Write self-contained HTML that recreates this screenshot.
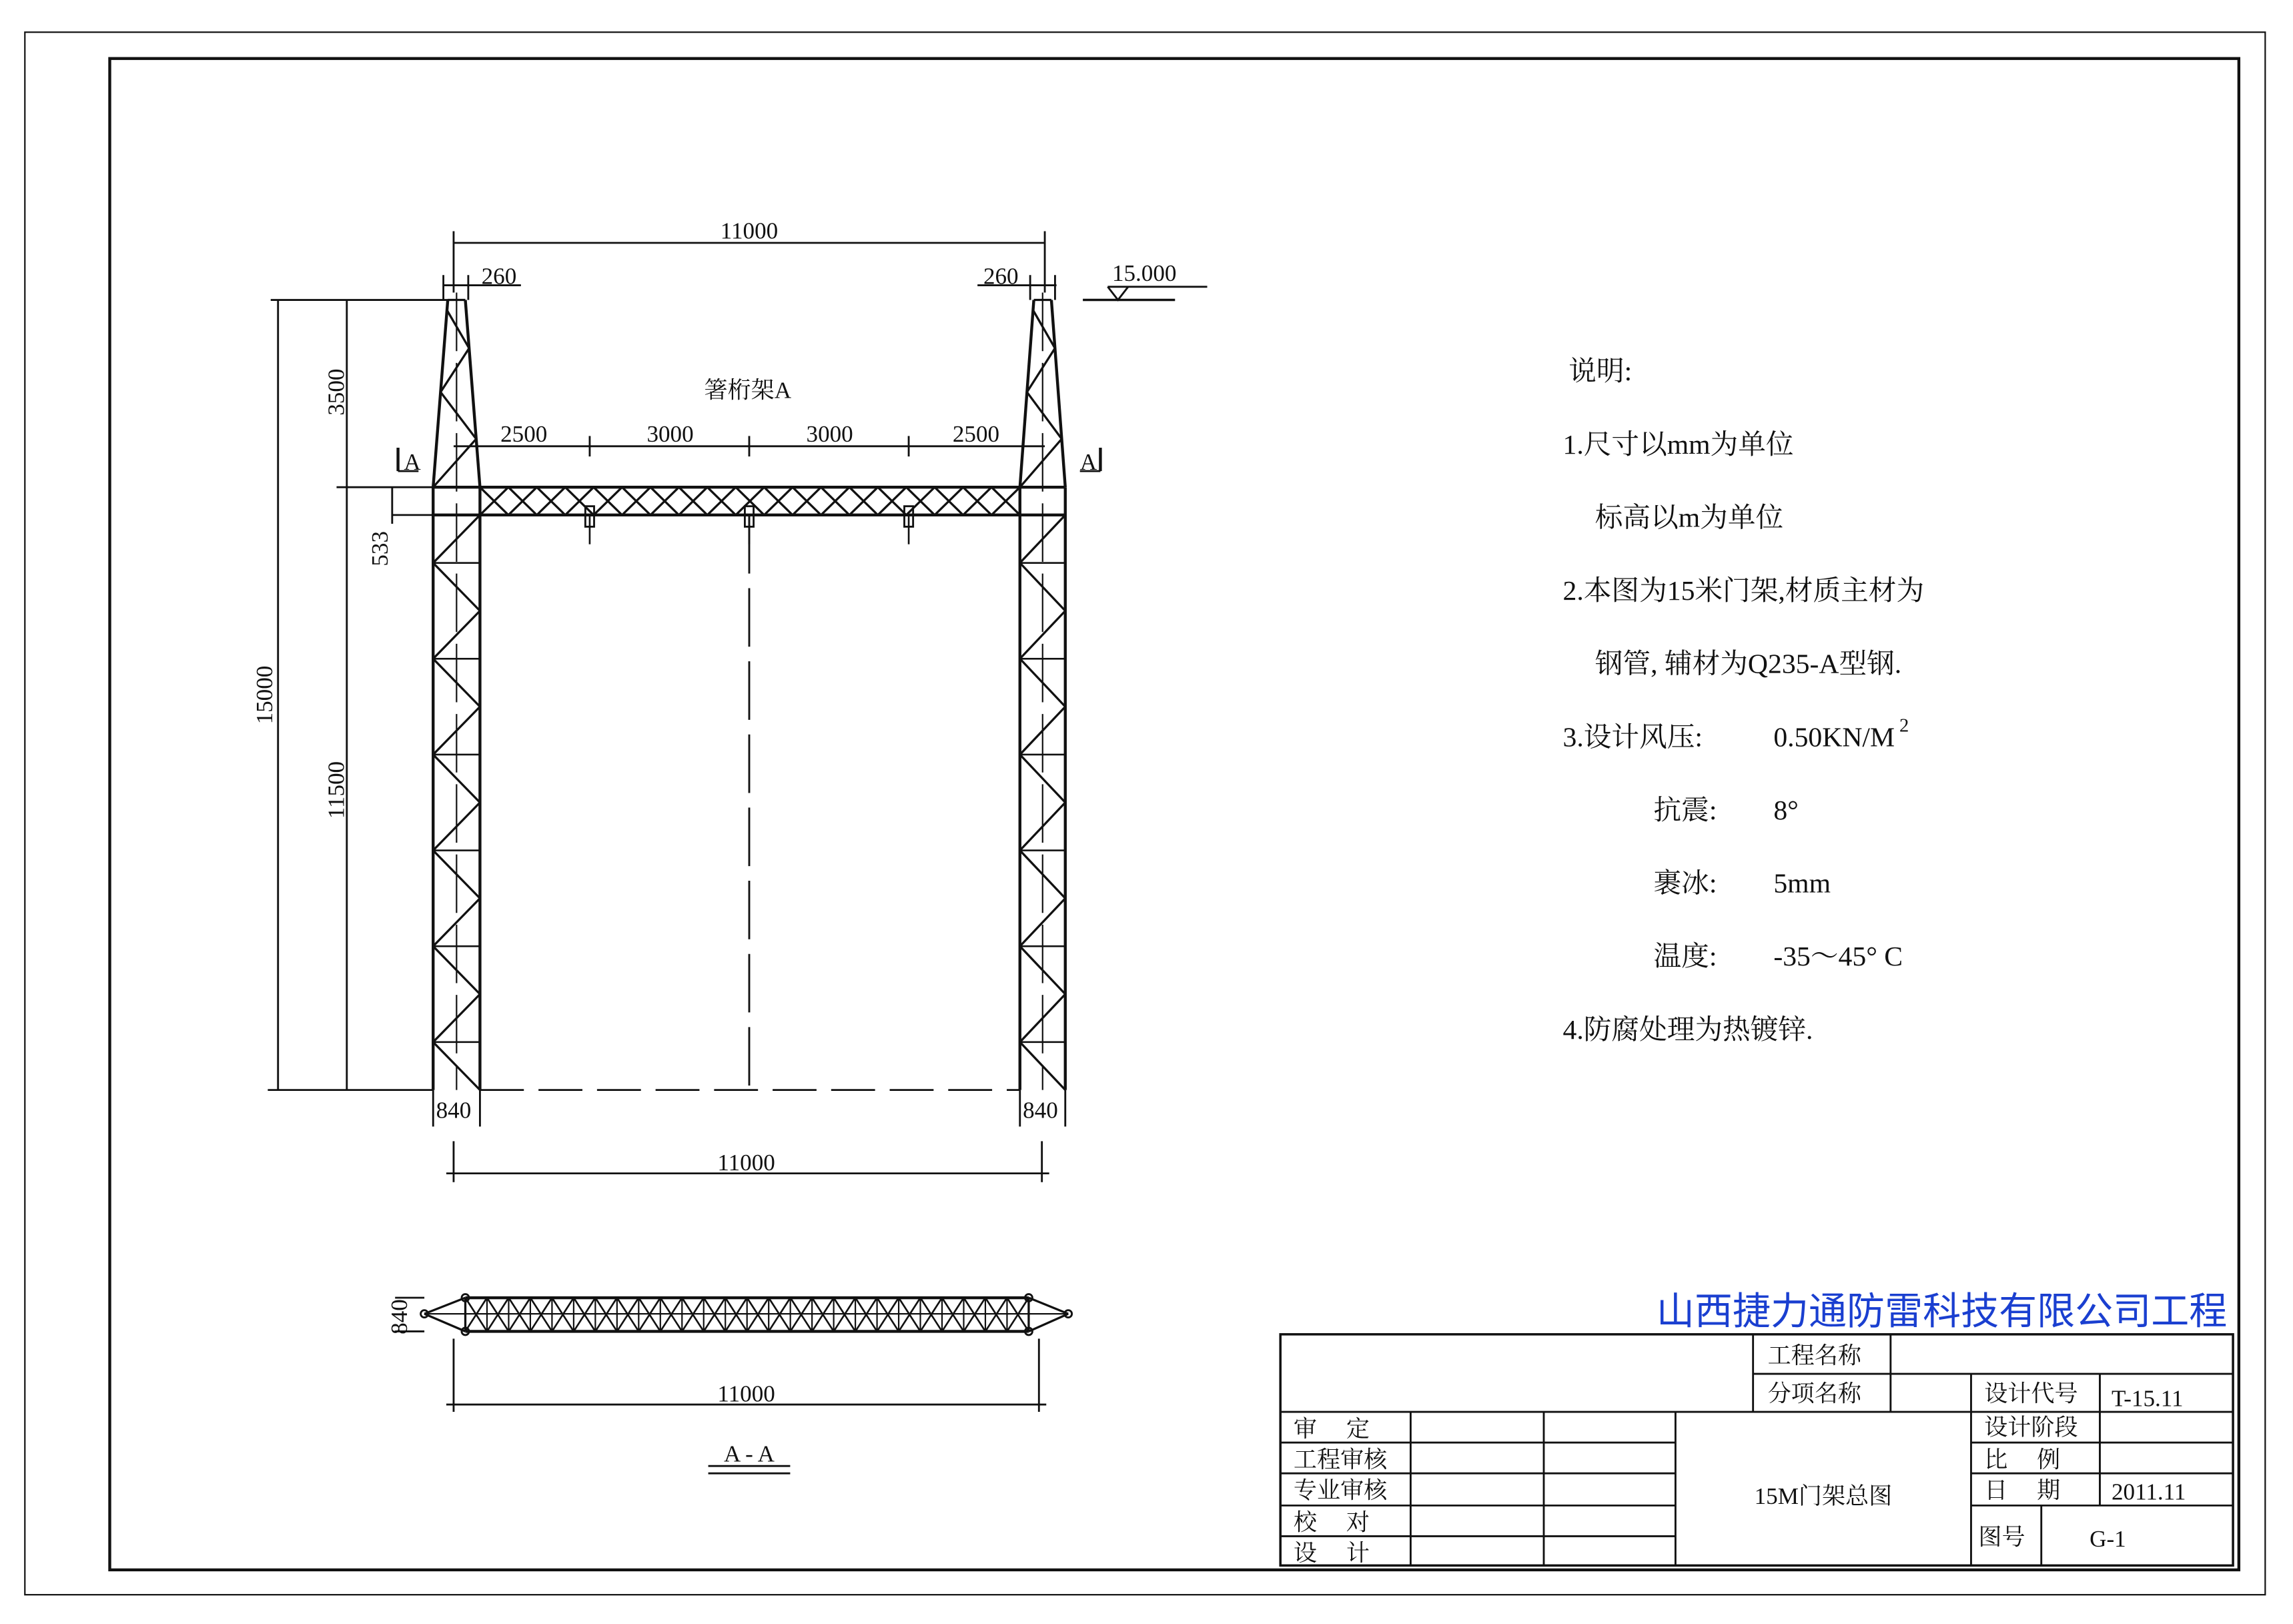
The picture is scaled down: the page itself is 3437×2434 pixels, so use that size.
<!DOCTYPE html>
<html><head><meta charset="utf-8"><style>
html,body{margin:0;padding:0;background:#fff}
svg{display:block}
text{font-family:"Liberation Serif","Noto Serif CJK SC","Noto Sans CJK SC",serif;fill:#111}
</style></head><body>
<svg id="s" width="3437" height="2434" viewBox="0 0 1567 1110" preserveAspectRatio="none" xmlns="http://www.w3.org/2000/svg">
<g stroke="#111" fill="none" stroke-width="1.3" id="g">
<rect x="17" y="22" width="1531" height="1068" stroke-width="1"/>
<rect x="75" y="40" width="1455" height="1033" stroke-width="2"/>
<rect x="875" y="912" width="651" height="158" stroke-width="1.6"/>
<line x1="875" y1="965" x2="1526" y2="965"/>
<line x1="1198" y1="912" x2="1198" y2="965"/>
<line x1="1198" y1="939" x2="1526" y2="939"/>
<line x1="1292" y1="912" x2="1292" y2="965"/>
<line x1="1347" y1="939" x2="1347" y2="1070"/>
<line x1="1435" y1="939" x2="1435" y2="1029"/>
<line x1="1347" y1="986" x2="1526" y2="986"/>
<line x1="1347" y1="1007" x2="1526" y2="1007"/>
<line x1="1347" y1="1029" x2="1526" y2="1029"/>
<line x1="1395" y1="1029" x2="1395" y2="1070"/>
<line x1="1145" y1="965" x2="1145" y2="1070"/>
<line x1="964" y1="965" x2="964" y2="1070"/>
<line x1="1055" y1="965" x2="1055" y2="1070"/>
<line x1="875" y1="986" x2="1145" y2="986"/>
<line x1="875" y1="1007" x2="1145" y2="1007"/>
<line x1="875" y1="1029" x2="1145" y2="1029"/>
<line x1="875" y1="1050" x2="1145" y2="1050"/>
<line x1="310" y1="166" x2="714" y2="166"/>
<line x1="310" y1="158" x2="310" y2="200"/><line x1="714" y1="158" x2="714" y2="200"/>
<line x1="303" y1="195" x2="356" y2="195"/><line x1="668" y1="195" x2="722" y2="195"/>
<line x1="303" y1="188" x2="303" y2="205"/><line x1="320" y1="188" x2="320" y2="205"/>
<line x1="704" y1="188" x2="704" y2="205"/><line x1="721" y1="188" x2="721" y2="205"/>
<line x1="310" y1="305" x2="714" y2="305"/>
<line x1="403" y1="298" x2="403" y2="312"/><line x1="512" y1="298" x2="512" y2="312"/><line x1="621" y1="298" x2="621" y2="312"/>
<line x1="185" y1="205" x2="310" y2="205"/>
<line x1="190" y1="205" x2="190" y2="745"/>
<line x1="237" y1="205" x2="237" y2="745"/>
<line x1="230" y1="333" x2="296" y2="333"/>
<line x1="268" y1="352" x2="296" y2="352"/>
<line x1="268" y1="333" x2="268" y2="358"/>
<line x1="183" y1="745" x2="296" y2="745"/>
<line x1="296" y1="745" x2="296" y2="770"/><line x1="328" y1="745" x2="328" y2="770"/>
<line x1="697" y1="745" x2="697" y2="770"/><line x1="728" y1="745" x2="728" y2="770"/>
<line x1="310" y1="780" x2="310" y2="808"/><line x1="712" y1="780" x2="712" y2="808"/>
<line x1="305" y1="802" x2="717" y2="802"/>
<line x1="328" y1="745" x2="697" y2="745" stroke-dasharray="30,10"/>
<line x1="512" y1="352" x2="512" y2="745" stroke-dasharray="40,10"/>
<line x1="272" y1="306" x2="272" y2="322" stroke-width="2"/><line x1="272" y1="322" x2="286" y2="322"/>
<line x1="752" y1="306" x2="752" y2="322" stroke-width="2"/><line x1="738" y1="322" x2="752" y2="322"/>
<line x1="740" y1="205" x2="803" y2="205" stroke-width="1.6"/>
<line x1="757" y1="196" x2="825" y2="196"/>
<polyline points="757,196 764,205 771,196"/>
<line x1="310" y1="915" x2="310" y2="965"/><line x1="710" y1="915" x2="710" y2="965"/>
<line x1="305" y1="960" x2="715" y2="960"/>
<line x1="270" y1="887" x2="290" y2="887"/><line x1="270" y1="910" x2="290" y2="910"/>
<line x1="484" y1="1002" x2="540" y2="1002"/><line x1="484" y1="1007" x2="540" y2="1007"/>
</g>
<g font-size="16">
<text x="512" y="163" text-anchor="middle">11000</text>
<text x="341" y="194" text-anchor="middle">260</text>
<text x="684" y="194" text-anchor="middle">260</text>
<text x="760" y="192">15.000</text>
<text x="511" y="272" text-anchor="middle">箸桁架A</text>
<text x="358" y="302" text-anchor="middle">2500</text>
<text x="458" y="302" text-anchor="middle">3000</text>
<text x="567" y="302" text-anchor="middle">3000</text>
<text x="667" y="302" text-anchor="middle">2500</text>
<text x="276" y="321">A</text><text x="738" y="321">A</text>
<text x="310" y="764" text-anchor="middle">840</text>
<text x="711" y="764" text-anchor="middle">840</text>
<text x="510" y="800" text-anchor="middle">11000</text>
<text x="510" y="958" text-anchor="middle">11000</text>
<text x="512" y="999" text-anchor="middle">A - A</text>
<text transform="translate(235,268) rotate(-90)" text-anchor="middle">3500</text>
<text transform="translate(265,375) rotate(-90)" text-anchor="middle">533</text>
<text transform="translate(186,475) rotate(-90)" text-anchor="middle">15000</text>
<text transform="translate(235,540) rotate(-90)" text-anchor="middle">11500</text>
<text transform="translate(278,900) rotate(-90)" text-anchor="middle">840</text>
</g>
<g font-size="19">
<text x="1072" y="260">说明:</text>
<text x="1068" y="310">1.尺寸以mm为单位</text>
<text x="1090" y="360">标高以m为单位</text>
<text x="1068" y="410">2.本图为15米门架,材质主材为</text>
<text x="1090" y="460">钢管, 辅材为Q235-A型钢.</text>
<text x="1068" y="510">3.设计风压:</text><text x="1212" y="510">0.50KN/M</text><text x="1298" y="500" font-size="13">2</text>
<text x="1130" y="560">抗震:</text><text x="1212" y="560">8°</text>
<text x="1130" y="610">裹冰:</text><text x="1212" y="610">5mm</text>
<text x="1130" y="660">温度:</text><text x="1212" y="660">-35～45° C</text>
<text x="1068" y="710">4.防腐处理为热镀锌.</text>
</g>
<text x="1522" y="905" text-anchor="end" font-size="26" style="fill:#1a3fd0;font-family:'Liberation Sans','Noto Sans CJK SC',sans-serif">山西捷力通防雷科技有限公司工程</text>
<g font-size="16">
<text x="1208" y="932">工程名称</text>
<text x="1208" y="958">分项名称</text>
<text x="1356" y="958">设计代号</text>
<text x="1443" y="961">T-15.11</text>
<text x="1356" y="981">设计阶段</text>
<text x="1356" y="1003">比　 例</text>
<text x="1356" y="1024">日　 期</text>
<text x="1443" y="1025">2011.11</text>
<text x="1352" y="1056">图号</text>
<text x="1428" y="1057">G-1</text>
<text x="1246" y="1028" text-anchor="middle">15M门架总图</text>
<text x="884" y="982">审　 定</text>
<text x="884" y="1003">工程审核</text>
<text x="884" y="1024">专业审核</text>
<text x="884" y="1046">校　 对</text>
<text x="884" y="1067">设　 计</text>
</g>
</svg>
<script>
var g=document.getElementById('g'),NS='http://www.w3.org/2000/svg';
function L(a,b,c,d,w){var e=document.createElementNS(NS,'line');e.setAttribute('x1',a);e.setAttribute('y1',b);e.setAttribute('x2',c);e.setAttribute('y2',d);e.setAttribute('stroke-width',w||1.5);g.appendChild(e);return e;}
function tower(xl,xr){
 var xc=(xl+xr)/2;
 L(xl,333,xl,745,2);L(xr,333,xr,745,2);
 L(xl,333,xc-6,205,2);L(xr,333,xc+6,205,2);L(xc-6,205,xc+6,205);
 L(xc,200,xc,745,1).setAttribute('stroke-dasharray','40,8');
 var ys=[333,300,268,238,212];
 for(var i=0;i<ys.length-1;i++){var y1=ys[i],y2=ys[i+1];
  var f=function(y){return (333-y)/128;};
  var l1=xl+(xc-6-xl)*f(y1),r1=xr-(xr-xc-6)*f(y1),l2=xl+(xc-6-xl)*f(y2),r2=xr-(xr-xc-6)*f(y2);
  if(i%2==0){L(l1,y1,r2,y2);}else{L(r1,y1,l2,y2);} }
 L(xl,352,xr,352);
 var top=352,bot=745,n=12,h=(bot-top)/n;
 for(var k=0;k<n;k++){var y=top+k*h;
  if(k%2==0){L(xr,y,xl,y+h);} else {L(xl,y,xr,y+h);}
  if(k%2==1)L(xl,y,xr,y,1.2);
 }
}
tower(296,328);tower(697,728);
L(296,333,728,333,2);L(296,352,728,352,2);
var bw=(697-328)/19;
for(var i=0;i<19;i++){var x=328+i*bw;L(x,333,x+bw,352);L(x,352,x+bw,333);}
[403,512,621].forEach(function(x){L(x,352,x,372,1.2);var r=document.createElementNS(NS,'rect');r.setAttribute('x',x-3);r.setAttribute('y',346);r.setAttribute('width',6);r.setAttribute('height',14);g.appendChild(r);});
L(318,887,703,887,2);L(318,910,703,910,2);
L(318,887,290,898);L(318,910,290,898);L(703,887,730,898);L(703,910,730,898);
L(290,898,730,898,1);L(318,887,318,910);L(703,887,703,910);
var pw=(703-318)/26;
for(var i=0;i<26;i++){var x=318+i*pw;L(x,887,x+pw,910,1.2);L(x,910,x+pw,887,1.2);L(x,887,x,910,1);}
[[318,887],[318,910],[703,887],[703,910],[290,898],[730,898]].forEach(function(p){var c=document.createElementNS(NS,'circle');c.setAttribute('cx',p[0]);c.setAttribute('cy',p[1]);c.setAttribute('r',2.5);g.appendChild(c);});
</script>
</body></html>
